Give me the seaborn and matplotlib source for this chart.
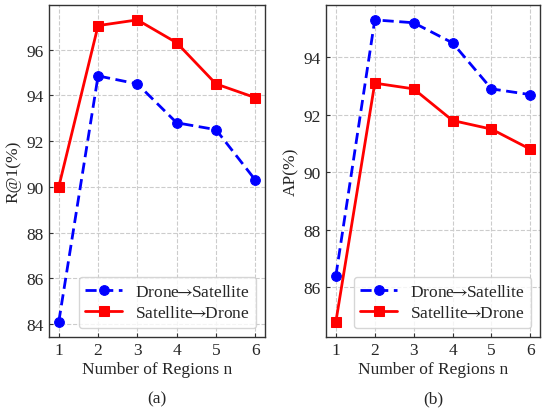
import matplotlib
matplotlib.use("Agg")
import matplotlib.pyplot as plt
import seaborn as sns

regions = [1, 2, 3, 4, 5, 6]

# (a) R@1
r1_drone_sat = [84.1, 94.85, 94.5, 92.8, 92.5, 90.3]
r1_sat_drone = [90.0, 97.05, 97.3, 96.3, 94.5, 93.9]

# (b) AP
ap_drone_sat = [86.4, 95.3, 95.2, 94.5, 92.9, 92.7]
ap_sat_drone = [84.8, 93.1, 92.9, 91.8, 91.5, 90.8]

label_ds = r"Drone$\!\!\rightarrow\!\!$Satellite"
label_sd = r"Satellite$\!\!\rightarrow\!\!$Drone"

sns.set_style("ticks")
plt.rcParams["font.family"] = ["Liberation Serif", "DejaVu Serif"]
plt.rcParams["mathtext.fontset"] = "stix"

fig = plt.figure(figsize=(5.5, 4.14), dpi=100)
ax1 = fig.add_axes([0.089, 0.184, 0.393, 0.802])
ax2 = fig.add_axes([0.593, 0.184, 0.389, 0.802])

panels = [
    (ax1, r1_drone_sat, r1_sat_drone, "R@1(%)", [84, 86, 88, 90, 92, 94, 96], "(a)"),
    (ax2, ap_drone_sat, ap_sat_drone, "AP(%)", [86, 88, 90, 92, 94], "(b)"),
]

for ax, ds, sd, ylab, yticks, cap in panels:
    sns.lineplot(x=regions, y=ds, ax=ax, color="blue", marker="o", markersize=7,
                 markeredgecolor="blue", linewidth=2, linestyle=(0, (4, 2)),
                 label=label_ds)
    sns.lineplot(x=regions, y=sd, ax=ax, color="red", marker="s", markersize=7,
                 markeredgecolor="red", linewidth=2, label=label_sd)
    ax.set_xticks(regions)
    ax.set_yticks(yticks)
    ax.grid(True, linestyle="--", color="#cccccc", linewidth=0.8)
    ax.set_axisbelow(True)
    ax.tick_params(direction="in", labelsize=12.5, length=3, color="#333333", pad=4)
    for sp in ax.spines.values():
        sp.set_color("#333333")
        sp.set_linewidth(1.0)
    ax.set_xlabel("Number of Regions n", fontsize=12.5, labelpad=2)
    ax.set_ylabel(ylab, fontsize=12.5, labelpad=3)
    leg = ax.legend(loc="lower right", fontsize=12.5, frameon=True, handlelength=2.1,
                    borderpad=0.4, labelspacing=0.3, handletextpad=0.75)
    leg.get_frame().set_edgecolor("#cccccc")
    pos = ax.get_position()
    fig.text(pos.x0 + pos.width / 2, 0.036, cap, ha="center", va="center", fontsize=12.5)

fig.savefig("out.png", dpi=100)
